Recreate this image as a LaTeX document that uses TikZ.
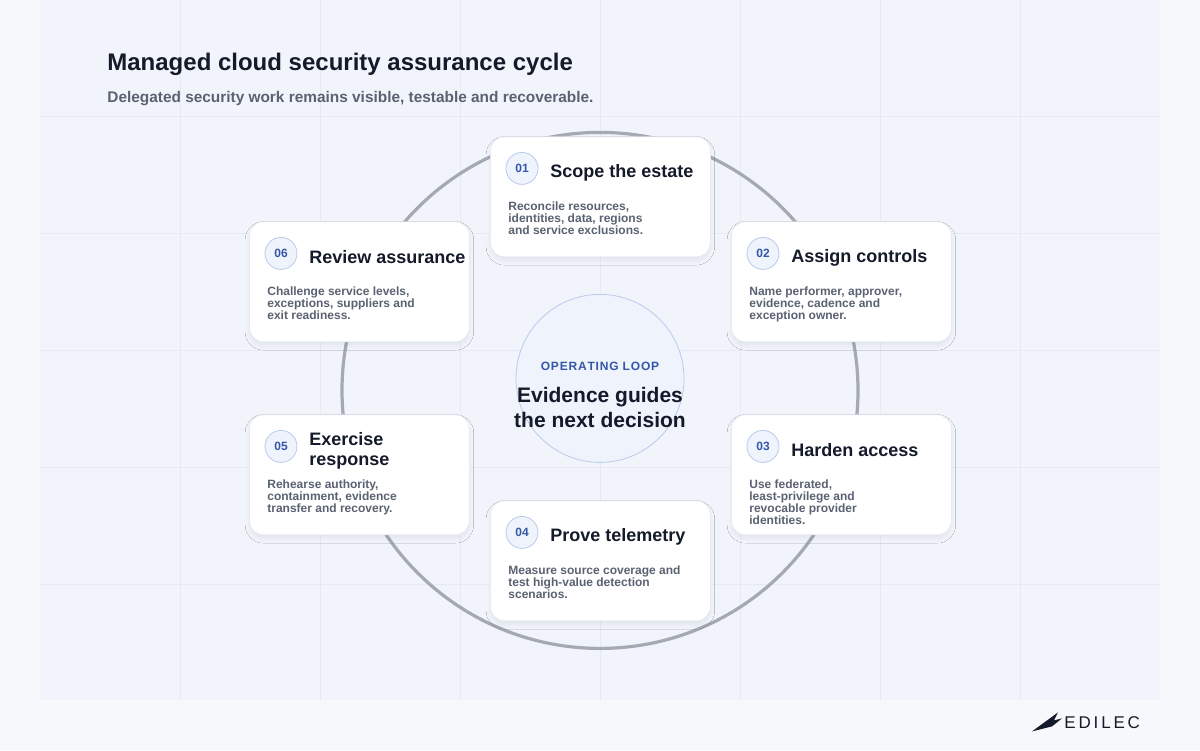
\documentclass[tikz,border=0pt]{standalone}
\usepackage{fontspec}
\setmainfont{Liberation Sans}
\usetikzlibrary{positioning,calc,shadows.blur}
\definecolor{pagebg}{HTML}{F7F8FB}
\definecolor{panelbg}{HTML}{F1F4FA}
\definecolor{gridc}{HTML}{E6EAF2}
\definecolor{ink}{HTML}{141A2A}
\definecolor{subink}{HTML}{5A6272}
\definecolor{ringc}{HTML}{A4A9B4}
\definecolor{badgeb}{HTML}{B9CBEA}
\definecolor{badgef}{HTML}{EEF3FC}
\definecolor{blueink}{HTML}{3457A8}
\tikzset{
  card/.style={draw=gridc, fill=white, rounded corners=7pt, minimum width=110pt, minimum height=60pt, blur shadow={shadow blur steps=8, shadow xshift=0pt, shadow yshift=-2pt, shadow opacity=6}},
  badge/.style={circle, draw=badgeb, fill=badgef, minimum size=16pt, inner sep=0pt, text=blueink, font=\fontsize{6}{7}\selectfont\bfseries},
  cardtitle/.style={anchor=west, inner sep=0pt, text=ink, font=\fontsize{9}{10}\selectfont\bfseries, align=left},
  cardbody/.style={anchor=north west, inner sep=0pt, text=subink, font=\fontsize{6}{6}\selectfont\bfseries, align=left}
}
% card: name, left x, top y, number, title, body
\newcommand{\stepcard}[6]{%
  \node[card, anchor=north west] (#1) at (#2,#3) {};
  \node[badge] (#1n) at ($(#1.north west)+(32,32)$) {#4};
  \node[cardtitle] (#1t) at ($(#1.north west)+(60,36)$) {#5};
  \node[cardbody] (#1b) at ($(#1.north west)+(18,65)$) {#6};
}
\begin{document}
\begin{tikzpicture}[x=0.5pt, y=-0.5pt]
  % background and grid
  \fill[pagebg] (0,0) rectangle (1200,750);
  \fill[panelbg] (40,0) rectangle (1160,700);
  \foreach \gx in {180,320,460,600,740,880,1020}
    \draw[gridc, line width=0.4pt] (\gx,0) -- (\gx,700);
  \foreach \gy in {116,233,350,467,584}
    \draw[gridc, line width=0.4pt] (40,\gy) -- (1160,\gy);
  \useasboundingbox (0,0) rectangle (1200,750);

  % heading
  \node[anchor=west, inner sep=0pt, text=ink, font=\fontsize{12}{14}\selectfont\bfseries] (title) at (107,64) {Managed cloud security assurance cycle};
  \node[anchor=west, inner sep=0pt, text=subink, font=\fontsize{7.7}{9}\selectfont\bfseries] (subtitle) at (107,98) {Delegated security work remains visible, testable and recoverable.};

  % ring
  \draw[ringc, line width=1.6pt] (600,390) circle[radius=129pt];

  % centre
  \node[circle, draw=badgeb, fill=badgef, minimum size=84pt, inner sep=0pt] (loop) at (600,378) {};
  \node[text=blueink, font=\fontsize{6}{7}\selectfont\bfseries] (looplbl) at (600,366) {O\kern.4pt P\kern.4pt E\kern.4pt R\kern.4pt A\kern.4pt T\kern.4pt I\kern.4pt N\kern.4pt G\kern.4pt\ L\kern.4pt O\kern.4pt O\kern.4pt P};
  \node[text=ink, font=\fontsize{10.5}{12.5}\selectfont\bfseries, align=center, below=1pt of looplbl] (loopmsg) {Evidence guides\\the next decision};

  % steps
  \stepcard{scope}{490}{136}{01}{Scope the estate}{Reconcile resources,\\identities, data, regions\\and service exclusions.}
  \stepcard{assign}{731}{221}{02}{Assign controls}{Name performer, approver,\\evidence, cadence and\\exception owner.}
  \stepcard{harden}{731}{414}{03}{Harden access}{Use federated,\\least-privilege and\\revocable provider\\identities.}
  \stepcard{prove}{490}{500}{04}{Prove telemetry}{Measure source coverage and\\test high-value detection\\scenarios.}
  \stepcard{exercise}{249}{414}{05}{Exercise\\response}{Rehearse authority,\\containment, evidence\\transfer and recovery.}
  \stepcard{review}{249}{221}{06}{Review assurance}{Challenge service levels,\\exceptions, suppliers and\\exit readiness.}

  % logo
  \fill[ink] (1032,731) -- (1058,712) -- (1054,720) -- (1062,718) -- (1052,726) -- cycle;
  \node[anchor=west, inner sep=0pt, text=ink, font=\fontsize{8.5}{9}\selectfont] (logo) at (1064,722) {E\,D\,I\,L\,E\,C};
\end{tikzpicture}
\end{document}
